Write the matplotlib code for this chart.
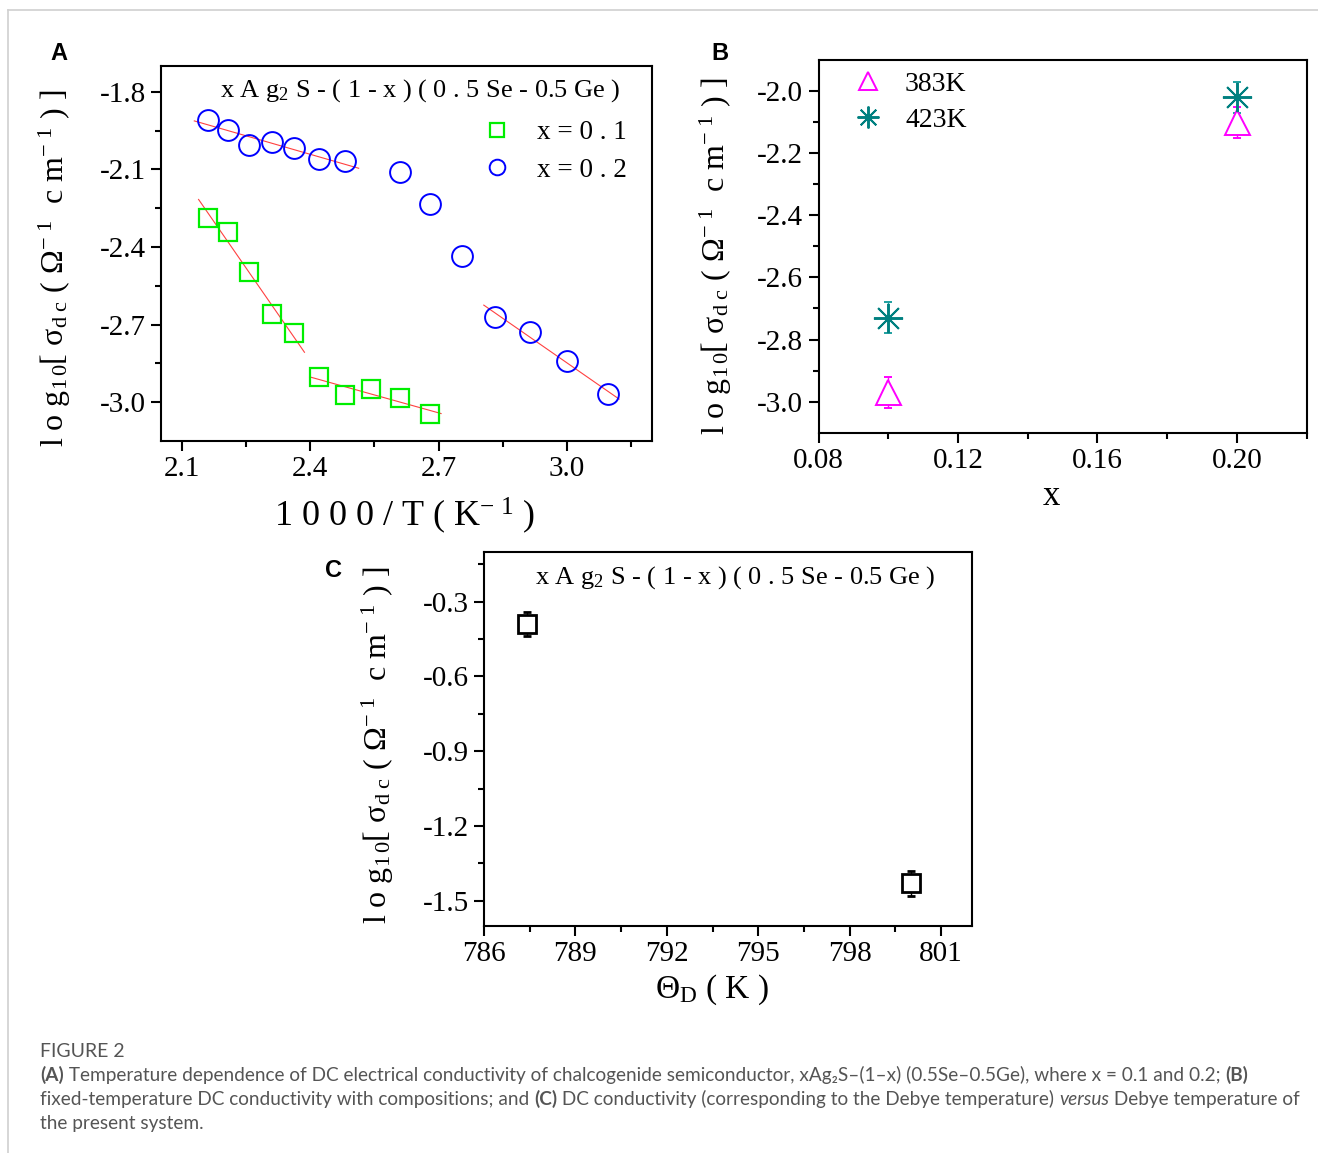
import numpy as np
import matplotlib
matplotlib.use("Agg")
import matplotlib.pyplot as plt
from matplotlib.ticker import FixedLocator
from matplotlib.lines import Line2D

# ---------------- data ----------------
# Panel A: log10 sigma_dc vs 1000/T
invT_x01 = [2.159, 2.208, 2.256, 2.309, 2.362, 2.421, 2.481, 2.542, 2.609, 2.680]
logs_x01 = [-2.288, -2.343, -2.495, -2.659, -2.734, -2.903, -2.971, -2.949, -2.985, -3.044]
invT_x02 = [2.159, 2.207, 2.255, 2.309, 2.362, 2.420, 2.481, 2.610, 2.680, 2.754,
            2.832, 2.914, 3.002, 3.096]
logs_x02 = [-1.907, -1.949, -2.007, -1.993, -2.018, -2.060, -2.069, -2.109, -2.233,
            -2.433, -2.670, -2.730, -2.841, -2.968]
# linear-fit segments: (series, first index, last index, x_start, x_end)
fit_segments = [("x02", 0, 6, 2.128, 2.513),
                ("x02", 10, 13, 2.806, 3.123),
                ("x01", 0, 4, 2.138, 2.386),
                ("x01", 5, 9, 2.398, 2.706)]

# Panel B: log10 sigma_dc vs composition x
comp_x = [0.10, 0.20]
logs_383K = [-2.97, -2.10]
err_383K = [0.05, 0.05]
logs_423K = [-2.73, -2.02]
err_423K = [0.05, 0.05]

# Panel C: log10 sigma_dc vs Debye temperature
theta_D = [787.4, 800.0]
logs_theta = [-0.39, -1.43]
err_theta = [0.05, 0.05]

# ---------------- style ----------------
plt.rcParams["font.family"] = ["Liberation Serif", "DejaVu Serif"]
plt.rcParams["mathtext.fontset"] = "custom"
plt.rcParams["mathtext.rm"] = "Liberation Serif"
plt.rcParams["mathtext.it"] = "Liberation Serif:italic"
plt.rcParams["mathtext.bf"] = "Liberation Serif:bold"

W, H = 1318, 1153
fig = plt.figure(figsize=(W / 100, H / 100), dpi=100)


def add_ax(l, t, r, b):
    return fig.add_axes([l / W, 1 - b / H, (r - l) / W, (b - t) / H])


def style(ax, labelsize=21):
    for s in ax.spines.values():
        s.set_linewidth(1.5)
    ax.tick_params(which="both", direction="out", top=False, right=False,
                   width=1.5, labelsize=labelsize)
    ax.tick_params(which="major", length=7, pad=4)
    ax.tick_params(which="minor", length=4)


ylab = r"l o g$_{\mathrm{1\,0}}$[ σ$_{\mathrm{d\ c}}$ ( Ω$^{\mathrm{-\ 1}}$  c m$^{\mathrm{-\ 1}}$ ) ]"
title_txt = r"x A g$_{\mathrm{2}}$ S - ( 1 - x ) ( 0 . 5 Se - 0.5 Ge )"

# ---------------- Panel A ----------------
axA = add_ax(161, 66, 652, 441)
style(axA)
series = {"x01": (invT_x01, logs_x01), "x02": (invT_x02, logs_x02)}
for key, i0, i1, xs, xe in fit_segments:
    xx = np.array(series[key][0][i0:i1 + 1])
    yy = np.array(series[key][1][i0:i1 + 1])
    p = np.polyfit(xx, yy, 1)
    xl = np.array([xs, xe])
    axA.plot(xl, np.polyval(p, xl), color="#ff4040", lw=0.8, zorder=2)
hA1, = axA.plot(invT_x01, logs_x01, ls="none", marker="s", ms=13.5, mfc="none",
                mec="#00ee00", mew=1.6, label="x = 0 . 1", zorder=3)
hA2, = axA.plot(invT_x02, logs_x02, ls="none", marker="o", ms=15, mfc="none",
                mec="#0000ff", mew=1.4, label="x = 0 . 2", zorder=3)
axA.set_xlim(2.05, 3.2)
axA.set_ylim(-3.15, -1.7)
axA.xaxis.set_major_locator(FixedLocator([2.1, 2.4, 2.7, 3.0]))
axA.xaxis.set_minor_locator(FixedLocator([2.25, 2.55, 2.85, 3.15]))
axA.yaxis.set_major_locator(FixedLocator([-1.8, -2.1, -2.4, -2.7, -3.0]))
axA.yaxis.set_minor_locator(FixedLocator([-1.95, -2.25, -2.55, -2.85]))
axA.set_xticklabels(["2.1", "2.4", "2.7", "3.0"])
axA.set_yticklabels(["-1.8", "-2.1", "-2.4", "-2.7", "-3.0"])
axA.text(0.528, 0.935, title_txt, transform=axA.transAxes, ha="center",
         va="center", fontsize=19)
axA.legend(handles=[hA1, hA2], loc="upper left", bbox_to_anchor=(0.656, 0.855),
           frameon=False, fontsize=19.5, markerscale=0.75, handlelength=1.0,
           handletextpad=1.0, labelspacing=0.45, borderpad=0, borderaxespad=0)

# ---------------- Panel B ----------------
axB = add_ax(818.5, 60, 1306.5, 432.7)
style(axB)
axB.errorbar(comp_x, logs_383K, yerr=err_383K, ls="none", marker="^", ms=18,
             mfc="white", mec="#ff00ff", mew=1.4, ecolor="#ff00ff",
             elinewidth=1.0, capsize=3, capthick=1.0, zorder=3)
axB.errorbar(comp_x, logs_423K, yerr=err_423K, ls="none", marker=(8, 2, 0),
             ms=21, mec="#008080", mew=1.4, ecolor="#20a0a0",
             elinewidth=1.0, capsize=3, capthick=1.0, zorder=3)
axB.set_xlim(0.08, 0.22)
axB.set_ylim(-3.1, -1.9)
axB.xaxis.set_major_locator(FixedLocator([0.08, 0.12, 0.16, 0.20]))
axB.xaxis.set_minor_locator(FixedLocator([0.10, 0.14, 0.18, 0.22]))
axB.yaxis.set_major_locator(FixedLocator([-2.0, -2.2, -2.4, -2.6, -2.8, -3.0]))
axB.yaxis.set_minor_locator(FixedLocator([-2.1, -2.3, -2.5, -2.7, -2.9]))
axB.set_xticklabels(["0.08", "0.12", "0.16", "0.20"])
axB.set_yticklabels(["-2.0", "-2.2", "-2.4", "-2.6", "-2.8", "-3.0"])
lb1 = Line2D([], [], ls="none", marker="^", ms=18, mfc="white", mec="#ff00ff", mew=1.4)
lb2 = Line2D([], [], ls="none", marker=(8, 2, 0), ms=21, mec="#008080", mew=1.4)
axB.legend(handles=[lb1, lb2], labels=["383K", "423K"], loc="upper left",
           bbox_to_anchor=(0.072, 0.97), frameon=False, fontsize=20,
           markerscale=0.75, handlelength=1.0, handletextpad=0.85,
           labelspacing=0.4, borderpad=0, borderaxespad=0)

# ---------------- Panel C ----------------
axC = add_ax(484, 551.7, 971.7, 925.7)
style(axC)
axC.errorbar(theta_D, logs_theta, yerr=err_theta, ls="none", marker="s", ms=13.5,
             mfc="white", mec="black", mew=2.0, ecolor="black", elinewidth=1.0,
             capsize=3, capthick=1.0, zorder=3)
axC.set_xlim(786, 802)
axC.set_ylim(-1.6, -0.1)
axC.xaxis.set_major_locator(FixedLocator([786, 789, 792, 795, 798, 801]))
axC.xaxis.set_minor_locator(FixedLocator([787.5, 790.5, 793.5, 796.5, 799.5]))
axC.yaxis.set_major_locator(FixedLocator([-0.3, -0.6, -0.9, -1.2, -1.5]))
axC.yaxis.set_minor_locator(FixedLocator([-0.15, -0.45, -0.75, -1.05, -1.35]))
axC.set_xticklabels(["786", "789", "792", "795", "798", "801"])
axC.set_yticklabels(["-0.3", "-0.6", "-0.9", "-1.2", "-1.5"])
axC.text(0.515, 0.93, title_txt, transform=axC.transAxes, ha="center",
         va="center", fontsize=19)

# ---------------- axis labels ----------------
fig.text(55 / W, 1 - 268 / H, ylab, rotation=90, ha="center", va="center", fontsize=23)
fig.text(716 / W, 1 - 256 / H, ylab, rotation=90, ha="center", va="center", fontsize=23)
fig.text(378 / W, 1 - 745 / H, ylab, rotation=90, ha="center", va="center", fontsize=23)
fig.text(405 / W, 1 - 516 / H, r"1 0 0 0 / T ( K$^{\mathrm{-\ 1}}$ )", ha="center",
         va="center", fontsize=26)
fig.text(1051 / W, 1 - 496 / H, "x", ha="center", va="center", fontsize=25)
fig.text(712 / W, 1 - 990 / H, r"Θ$_{\mathrm{D}}$ ( K )", ha="center", va="center",
         fontsize=24)

# panel letters
for lab, x, y in [("A", 59, 53), ("B", 720, 53), ("C", 333, 571)]:
    fig.text(x / W, 1 - y / H, lab, ha="center", va="center", fontsize=17,
             fontweight="bold", family=["Liberation Sans", "DejaVu Sans"])

# frame lines
fig.add_artist(Line2D([8 / W, 1], [1 - 10 / H, 1 - 10 / H], color="#d0d0d0", lw=1.2))
fig.add_artist(Line2D([8 / W, 8 / W], [1 - 10 / H, 0], color="#d0d0d0", lw=1.2))

# ---------------- caption ----------------
cap_family = ["Lato", "DejaVu Sans"]
cap_col = "#555555"
cap_fs = 13.7
renderer = fig.canvas.get_renderer()


def write_line(pieces, x_px, y_px, fs=cap_fs):
    x = x_px
    for txt, weight, style_ in pieces:
        t = fig.text(x / W, 1 - y_px / H, txt, ha="left", va="baseline",
                     fontsize=fs, color=cap_col, family=cap_family,
                     fontweight=weight, fontstyle=style_)
        bb = t.get_window_extent(renderer=renderer)
        x += bb.width


write_line([("FIGURE 2", "normal", "normal")], 40, 1057, fs=14)
write_line([("(A)", "bold", "normal"),
            (" Temperature dependence of DC electrical conductivity of chalcogenide "
             "semiconductor, xAg₂S–(1–x) (0.5Se–0.5Ge), where x = 0.1 and 0.2; ",
             "normal", "normal"),
            ("(B)", "bold", "normal")], 40, 1081)
write_line([("fixed-temperature DC conductivity with compositions; and ", "normal", "normal"),
            ("(C)", "bold", "normal"),
            (" DC conductivity (corresponding to the Debye temperature) ", "normal", "normal"),
            ("versus", "normal", "italic"),
            (" Debye temperature of", "normal", "normal")], 40, 1105)
write_line([("the present system.", "normal", "normal")], 40, 1129)

fig.savefig("out.png", dpi=100)
